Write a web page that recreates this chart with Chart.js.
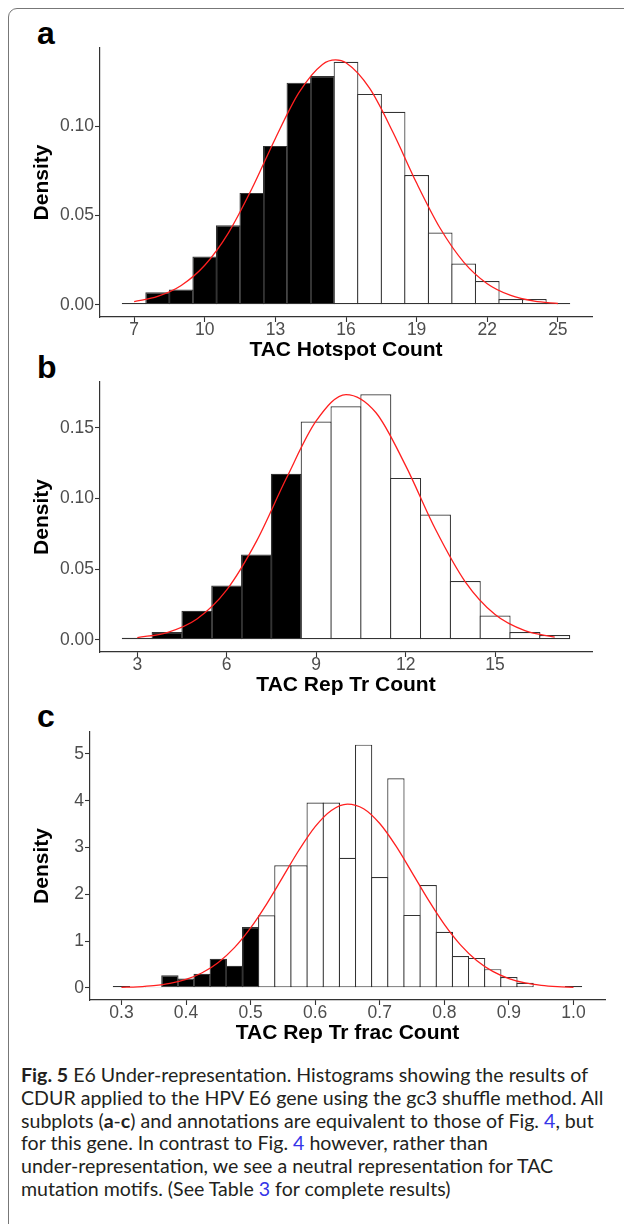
<!DOCTYPE html>
<html lang="en">
<head>
<meta charset="UTF-8">
<title>Fig. 5 E6 Under-representation</title>
<script src="https://cdn.jsdelivr.net/npm/chart.js"></script>
<style>
    body {
        margin: 0;
        width: 624px;
        height: 1224px;
        overflow: hidden;
        position: relative;
        background: #fff;
    }
    .frame {
        position: absolute;
        left: 8px;
        top: 8px;
        width: 700px;
        height: 1300px;
        border: 1.5px solid #777;
        border-radius: 9px;
    }
    canvas {
        position: absolute;
        left: 0;
    }
    .tag {
        position: absolute;
        left: 37px;
        font: bold 32px 'Liberation Sans', Arial, sans-serif;
        line-height: 1;
        color: #000;
    }
    .caption {
        position: absolute;
        left: 21px;
        top: 1064px;
        font: 19.5px Lato, sans-serif;
        line-height: 22.8px;
        color: #231f20;
        white-space: nowrap;
        transform-origin: 0 0;
    }
    .ref { color: #3535e8; }
</style>
</head>
<body>
<div class="frame"></div>

<div class="tag" style="top:17px">a</div>
<div class="tag" style="top:351px">b</div>
<div class="tag" style="top:700px">c</div>

<canvas id="chartA" width="624" height="363" style="top:0px"></canvas>
<canvas id="chartB" width="624" height="332" style="top:366px"></canvas>
<canvas id="chartC" width="624" height="330" style="top:716px"></canvas>

<div class="caption"><span id="capLine1"><b>Fig. 5</b> E6 Under-representation. Histograms showing the results of</span><br>CDUR applied to the HPV E6 gene using the gc3 shuffle method. All<br>subplots (<b>a</b>-<b>c</b>) and annotations are equivalent to those of Fig. <span class="ref">4</span>, but<br>for this gene. In contrast to Fig. <span class="ref">4</span> however, rather than<br>under-representation, we see a neutral representation for TAC<br>mutation motifs. (See Table <span class="ref">3</span> for complete results)</div>

<script>
    // --- panel a: TAC Hotspot Count ---
    const aBins = [7, 8, 9, 10, 11, 12, 13, 14, 15, 16, 17, 18, 19, 20, 21, 22, 23, 24, 25];
    const aDensity = [0.001, 0.007, 0.0085, 0.027, 0.0445, 0.0626, 0.0889, 0.1243, 0.128, 0.136,
                      0.118, 0.108, 0.0726, 0.0404, 0.0231, 0.0133, 0.0032, 0.0032, 0.001];
    const aCut = 15; // bins up to this one are filled black
    const aCurveX = [7, 8, 9, 10, 11, 12, 13, 14, 15, 15.56, 16, 17, 18, 19, 20, 21, 22, 23, 24, 25];
    const aCurveY = [0.0018, 0.0047, 0.0108, 0.0221, 0.0401, 0.0649, 0.0931, 0.1187, 0.1345, 0.137,
                     0.1354, 0.1212, 0.0964, 0.0681, 0.0428, 0.0239, 0.0118, 0.0052, 0.002, 0.0007];
    const aXTicks = [7, 10, 13, 16, 19, 22, 25];
    const aYTicks = [0, 0.05, 0.10];

    // --- panel b: TAC Rep Tr Count ---
    const bBins = [3, 4, 5, 6, 7, 8, 9, 10, 11, 12, 13, 14, 15, 16, 17];
    const bDensity = [0.0014, 0.0054, 0.0205, 0.0384, 0.0603, 0.1175, 0.1545, 0.1653, 0.1738,
                      0.1146, 0.0887, 0.0415, 0.0172, 0.0054, 0.0033];
    const bCut = 8;
    const bCurveX = [3, 4, 5, 6, 7, 8, 9, 10, 11, 12, 13, 14, 15, 16, 17];
    const bCurveY = [0.0015, 0.0051, 0.0147, 0.0353, 0.0698, 0.1143, 0.1549, 0.1736, 0.1609,
                     0.1233, 0.0782, 0.041, 0.0178, 0.0064, 0.0019];
    const bXTicks = [3, 6, 9, 12, 15];
    const bYTicks = [0, 0.05, 0.10, 0.15];

    // --- panel c: TAC Rep Tr frac Count ---
    const cBins = [0.300, 0.325, 0.350, 0.375, 0.400, 0.425, 0.450, 0.475, 0.500, 0.525,
                   0.550, 0.575, 0.600, 0.625, 0.650, 0.675, 0.700, 0.725, 0.750, 0.775,
                   0.800, 0.825, 0.850, 0.875, 0.900, 0.925, 0.950, 0.975, 1.000];
    const cDensity = [0.04, 0.02, 0.02, 0.27, 0.20, 0.30, 0.62, 0.47, 1.30, 1.55,
                      2.62, 2.62, 3.96, 3.96, 2.78, 5.20, 2.37, 4.48, 1.56, 2.20,
                      1.20, 0.68, 0.64, 0.40, 0.23, 0.11, 0, 0, 0.04];
    const cCut = 0.5;
    const cCurveX = cBins;
    const cCurveY = [0.010, 0.022, 0.047, 0.095, 0.180, 0.322, 0.543, 0.859, 1.281, 1.796,
                     2.372, 2.947, 3.447, 3.793, 3.929, 3.830, 3.513, 3.034, 2.465, 1.886,
                     1.358, 0.920, 0.586, 0.352, 0.199, 0.105, 0.053, 0.025, 0.011];
    const cXTicks = [0.3, 0.4, 0.5, 0.6, 0.7, 0.8, 0.9, 1.0];
    const cYTicks = [0, 1, 2, 3, 4, 5];

    Chart.defaults.font.family = "'Liberation Sans', Arial, sans-serif";

    const axisColor = '#333';
    const barLine = 1.2;

    function histogram(id, o) {
        const canvas = document.getElementById(id);
        // widen each bar by one line width so neighbouring outlines overlap like ggplot's
        const plotW = canvas.width - o.left - o.right;
        const pxPerBin = plotW / (o.xMax - o.xMin) * o.binWidth;

        new Chart(canvas, {
            type: 'bar',
            data: {
                datasets: [{
                    type: 'line',
                    data: o.curveX.map((x, i) => ({ x: x, y: o.curveY[i] })),
                    borderColor: '#ff1f1f',
                    borderWidth: 1.3,
                    pointRadius: 0,
                    cubicInterpolationMode: 'monotone',
                    order: 0
                }, {
                    type: 'bar',
                    data: o.bins.map((x, i) => ({ x: x, y: o.density[i] })),
                    backgroundColor: o.bins.map(x => x <= o.cut + 1e-9 ? '#000' : '#fff'),
                    borderColor: axisColor,
                    borderWidth: barLine,
                    borderSkipped: false,
                    barPercentage: 1 + barLine / pxPerBin,
                    categoryPercentage: 1,
                    grouped: false,
                    order: 1
                }]
            },
            options: {
                responsive: false,
                animation: false,
                devicePixelRatio: 1,
                layout: { padding: { top: o.top, right: o.right, left: 0, bottom: 0 } },
                plugins: { legend: { display: false }, tooltip: { enabled: false } },
                scales: {
                    x: {
                        type: 'linear',
                        min: o.xMin,
                        max: o.xMax,
                        offset: false,
                        afterFit: s => { s.height = o.bottom; },
                        afterBuildTicks: s => { s.ticks = o.xTicks.map(v => ({ value: v })); },
                        grid: { display: true, drawOnChartArea: false, tickLength: 5, tickWidth: 1.1, tickColor: axisColor, offset: false },
                        border: { display: true, color: axisColor, width: 1.2 },
                        ticks: {
                            autoSkip: false, maxRotation: 0, padding: -1, color: '#4d4d4d',
                            font: { size: 17.5, lineHeight: 1 },
                            callback: v => o.fmtX(v)
                        },
                        title: {
                            display: true, text: o.title, color: '#000',
                            font: { size: 21, weight: 'bold' }, padding: { top: 0, bottom: 0 }
                        }
                    },
                    y: {
                        min: o.yMin,
                        max: o.yMax,
                        afterFit: s => { s.width = o.left; },
                        afterBuildTicks: s => { s.ticks = o.yTicks.map(v => ({ value: v })); },
                        grid: { display: true, drawOnChartArea: false, tickLength: 5, tickWidth: 1.1, tickColor: axisColor },
                        border: { display: true, color: axisColor, width: 1.2 },
                        ticks: {
                            padding: 1, color: '#4d4d4d',
                            font: { size: 17.5 },
                            callback: v => o.fmtY(v)
                        },
                        title: {
                            display: true, text: 'Density', color: '#000',
                            font: { size: 21, weight: 'bold' }, padding: { top: 30, bottom: 0 }
                        }
                    }
                }
            }
        });
    }

    histogram('chartA', {
        bins: aBins, density: aDensity, cut: aCut, curveX: aCurveX, curveY: aCurveY,
        xTicks: aXTicks, yTicks: aYTicks, binWidth: 1,
        xMin: 5.55, xMax: 26.45, yMin: -0.00685, yMax: 0.1437,
        left: 100, right: 32, top: 48, bottom: 46,
        title: 'TAC Hotspot Count', fmtX: v => String(v), fmtY: v => v.toFixed(2)
    });

    histogram('chartB', {
        bins: bBins, density: bDensity, cut: bCut, curveX: bCurveX, curveY: bCurveY,
        xTicks: bXTicks, yTicks: bYTicks, binWidth: 1,
        xMin: 1.75, xMax: 18.25, yMin: -0.0087, yMax: 0.1825,
        left: 100, right: 32, top: 16, bottom: 46,
        title: 'TAC Rep Tr Count', fmtX: v => String(v), fmtY: v => v.toFixed(2)
    });

    histogram('chartC', {
        bins: cBins, density: cDensity, cut: cCut, curveX: cCurveX, curveY: cCurveY,
        xTicks: cXTicks, yTicks: cYTicks, binWidth: 0.025,
        xMin: 0.2513, xMax: 1.0488, yMin: -0.26, yMax: 5.47,
        left: 90, right: 19, top: 16, bottom: 46,
        title: 'TAC Rep Tr frac Count', fmtX: v => v.toFixed(1), fmtY: v => String(v)
    });

    // stretch the caption so its first line spans the same width as the figure's
    const cap = document.querySelector('.caption');
    const w = document.getElementById('capLine1').getBoundingClientRect().width;
    cap.style.transform = 'scaleX(' + (567 / w) + ')';
</script>
</body>
</html>
